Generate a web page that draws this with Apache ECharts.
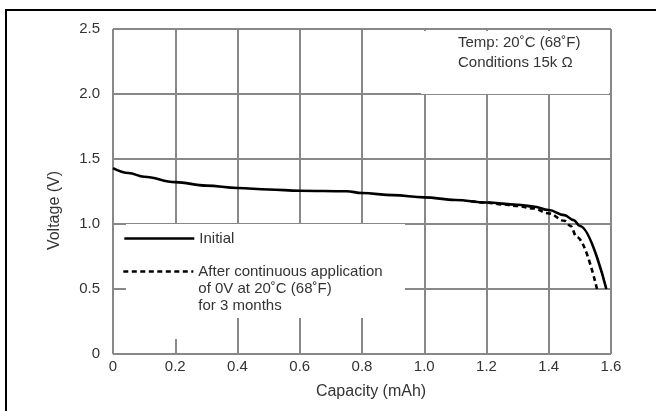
<!DOCTYPE html>
<html><head><meta charset="utf-8">
<script src="https://cdn.jsdelivr.net/npm/echarts@6/dist/echarts.min.js"></script>
<style>html,body{margin:0;padding:0;background:#fff}#c{width:656px;height:411px}</style>
</head><body><div id="c"></div>
<script>
const xTickLabels = ['0','0.2','0.4','0.6','0.8','1.0','1.2','1.4','1.6'];
const yTickLabels = ['0','0.5','1.0','1.5','2.0','2.5'];

const initialCapacity = [0, 0.05, 0.1, 0.2, 0.3, 0.4, 0.5, 0.6, 0.75, 0.8, 0.9, 1.0, 1.1, 1.2, 1.3, 1.35, 1.4, 1.45, 1.48, 1.5, 1.585];
const initialVoltage  = [1.43, 1.392, 1.364, 1.322, 1.295, 1.277, 1.265, 1.256, 1.252, 1.238, 1.222, 1.205, 1.185, 1.165, 1.148, 1.135, 1.108, 1.068, 1.03, 0.985, 0.5];

const storedCapacity = [1.15, 1.2, 1.25, 1.3, 1.35, 1.4, 1.45, 1.47, 1.49, 1.555];
const storedVoltage  = [1.175, 1.165, 1.151, 1.138, 1.12, 1.082, 1.025, 0.985, 0.9, 0.5];

const initialName = 'Initial';
const storedName = 'After continuous application\nof 0V at 20˚C (68˚F)\nfor 3 months';
const noteText = 'Temp: 20˚C (68˚F)\nConditions 15k Ω';

const FONT = '"Liberation Sans", Arial, Helvetica, sans-serif';
const GRID_COLOR = '#888888';
const TEXT_COLOR = '#333';

const pairs = (xs, ys) => xs.map((x, i) => [x, ys[i]]);

const legendCommon = {
  padding: 0, orient: 'vertical', itemWidth: 70, itemHeight: 14, selectedMode: false,
  itemStyle: {opacity: 0, color: 'rgba(0,0,0,0)', borderWidth: 0},
  lineStyle: {width: 2.6},
  textStyle: {fontSize: 15, color: TEXT_COLOR, fontFamily: FONT, lineHeight: 17}
};

const chart = echarts.init(document.getElementById('c'), null, {renderer: 'canvas'});
chart.setOption({
  animation: false,
  backgroundColor: '#fff',
  textStyle: {fontFamily: FONT},
  grid: {left: 113, right: 45, top: 29, bottom: 57, containLabel: false, outerBoundsMode: 'none'},
  title: {
    text: noteText, left: 458, top: 33, padding: 0,
    textStyle: {fontSize: 15, fontWeight: 'normal', color: TEXT_COLOR, lineHeight: 20, fontFamily: FONT}
  },
  legend: [
    Object.assign({}, legendCommon, {data: [initialName], left: 123, top: 230}),
    Object.assign({}, legendCommon, {
      data: [storedName], left: 122, top: 229,
      formatter: name => '\n\n' + name
    })
  ],
  xAxis: {
    type: 'value', min: 0, max: 1.6, interval: 0.2,
    axisLine: {show: false}, axisTick: {show: false},
    splitLine: {show: true, lineStyle: {color: GRID_COLOR, width: 2}},
    axisLabel: {
      formatter: v => xTickLabels[Math.round(v / 0.2)],
      color: TEXT_COLOR, fontSize: 15, margin: 5, fontFamily: FONT
    },
    name: 'Capacity (mAh)', nameLocation: 'middle', nameGap: 30,
    nameTextStyle: {fontSize: 16, color: TEXT_COLOR, fontFamily: FONT, padding: [0, 0, 0, 18]}
  },
  yAxis: {
    type: 'value', min: 0, max: 2.5, interval: 0.5,
    axisLine: {show: false}, axisTick: {show: false},
    splitLine: {show: true, lineStyle: {color: GRID_COLOR, width: 2}},
    axisLabel: {
      formatter: v => yTickLabels[Math.round(v / 0.5)],
      color: TEXT_COLOR, fontSize: 15, margin: 13, fontFamily: FONT
    },
    name: 'Voltage (V)', nameLocation: 'middle', nameGap: 50,
    nameTextStyle: {fontSize: 16, color: TEXT_COLOR, fontFamily: FONT, padding: [0, 38, 0, 0]}
  },
  graphic: [
    {type: 'rect', z: 1, silent: true, shape: {x: 421, y: 31, width: 188, height: 63}, style: {fill: '#fff'}},
    {type: 'rect', z: 1, silent: true, shape: {x: 126, y: 224, width: 279, height: 94}, style: {fill: '#fff'}},
    {type: 'rect', z: 1, silent: true, shape: {x: 150, y: 317, width: 50, height: 22}, style: {fill: '#fff'}},
    {type: 'rect', z: 10, silent: true, shape: {x: 6, y: 10, width: 700, height: 500}, style: {fill: 'none', stroke: '#000', lineWidth: 2}}
  ],
  series: [
    {
      name: storedName, type: 'line', data: pairs(storedCapacity, storedVoltage),
      symbol: 'none', smooth: 0.4, smoothMonotone: 'x', z: 2,
      lineStyle: {color: '#000', width: 2.6, type: [5, 3.5]}, itemStyle: {color: '#000'}
    },
    {
      name: initialName, type: 'line', data: pairs(initialCapacity, initialVoltage),
      symbol: 'none', smooth: 0.4, smoothMonotone: 'x', z: 3,
      lineStyle: {color: '#000', width: 2.6}, itemStyle: {color: '#000'}
    }
  ]
});
</script>
</body></html>
